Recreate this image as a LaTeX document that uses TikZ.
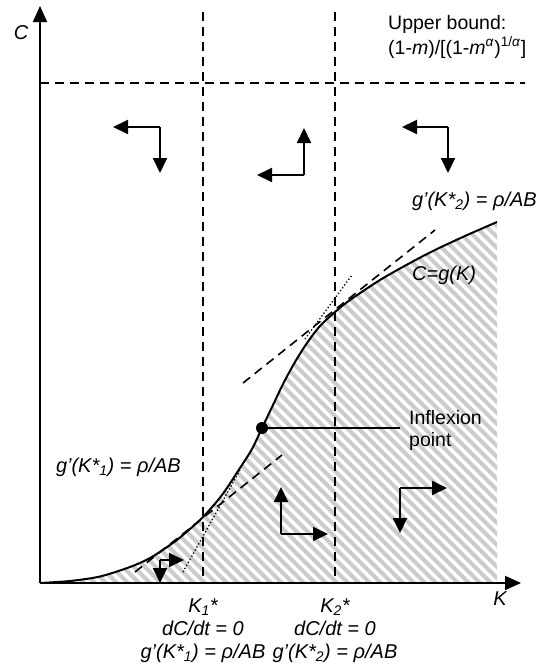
\documentclass[tikz,border=0pt]{standalone}
\usepackage{fontspec}
\setmainfont{Liberation Sans}
\usetikzlibrary{arrows.meta}
\begin{document}
\begin{tikzpicture}[x=1pt,y=-1pt,
  ax/.style={line width=2pt, -{Triangle[length=16pt,width=14pt]}},
  dir/.style={line width=2pt, -{Triangle[length=15pt,width=14pt]}},
  dsh/.style={line width=1.6pt, dash pattern=on 9pt off 6pt},
  dots/.style={line width=1.3pt, dash pattern=on 1.3pt off 2.2pt},
  lbl/.style={inner sep=0pt, font=\fontsize{19.5}{22}\selectfont},
  ilbl/.style={inner sep=0pt, font=\fontsize{20}{23}\selectfont\itshape},
  hatch/.style={line width=4pt, black!20}]
\useasboundingbox (0,0) rectangle (540,667);
% hatched region under the curve
\begin{scope}
\clip plot[smooth] coordinates {(40,583) (70,581) (100,576.5) (130,567) (150,558) (170,545) (183,535) (203,517) (222,495) (240,468) (252,449) (262,428) (273,405) (283,384) (295,362) (307,343) (320,326) (335,312) (350,300) (380,280) (410,263) (435,250) (465,236) (497,222)} -- (497,583) -- (40,583) -- cycle;
\foreach \i in {-620,-609,...,600} \draw[hatch] (\i,0) -- ++(700,700);
\end{scope}
% reference lines
\coordinate (o) at (40,583);
\coordinate (ytip) at (40,6);
\coordinate (xtip) at (521,583);
\coordinate (ubl) at (40,83);
\coordinate (ubr) at (525,83);
\coordinate (k1t) at (203,12);
\coordinate (k1b) at (203,583);
\coordinate (k2t) at (335,12);
\coordinate (k2b) at (335,583);
\draw[dsh] (ubl) -- (ubr);
\draw[dsh] (k1t) -- (k1b);
\draw[dsh] (k2t) -- (k2b);
% tangents
\coordinate (ta1) at (243,383); \coordinate (ta2) at (435,230);
\coordinate (tb1) at (305,339); \coordinate (tb2) at (352,275);
\coordinate (tc1) at (135,572); \coordinate (tc2) at (282,455);
\coordinate (td1) at (183,572); \coordinate (td2) at (240,470);
\draw[dsh] (ta1) -- (ta2);
\draw[dots] (tb1) -- (tb2);
\draw[dsh] (tc1) -- (tc2);
\draw[dots] (td1) -- (td2);
% curve
\draw[line width=2pt] plot[smooth] coordinates {(40,583) (70,581) (100,576.5) (130,567) (150,558) (170,545) (183,535) (203,517) (222,495) (240,468) (252,449) (262,428) (273,405) (283,384) (295,362) (307,343) (320,326) (335,312) (350,300) (380,280) (410,263) (435,250) (465,236) (497,222)};
% axes
\draw[ax] (o) -- (ytip);
\draw[ax] (o) -- (xtip);
% inflexion point
\node[circle, fill, inner sep=0pt, minimum size=12pt] (infl) at (262,428) {};
\coordinate (inflend) at (400,428);
\draw[line width=2pt] (infl.center) -- (inflend);
\node[lbl, anchor=base west] (inftxt1) at (409,424) {Inflexion};
\node[lbl, anchor=base west] (inftxt2) at (409,446) {point};
% direction arrows
\coordinate (c1) at (160,127); \coordinate (c1h) at (113,127); \coordinate (c1v) at (160,173);
\draw[dir] (c1) -- (c1h); \draw[dir] (c1) -- (c1v);
\coordinate (c2) at (304,175); \coordinate (c2h) at (257,175); \coordinate (c2v) at (304,128);
\draw[dir] (c2) -- (c2h); \draw[dir] (c2) -- (c2v);
\coordinate (c3) at (448,127); \coordinate (c3h) at (402,127); \coordinate (c3v) at (448,173);
\draw[dir] (c3) -- (c3h); \draw[dir] (c3) -- (c3v);
\coordinate (c4) at (281,534); \coordinate (c4h) at (328,534); \coordinate (c4v) at (281,487);
\draw[dir] (c4) -- (c4h); \draw[dir] (c4) -- (c4v);
\coordinate (c5) at (400,488); \coordinate (c5h) at (447,488); \coordinate (c5v) at (400,533);
\draw[dir] (c5) -- (c5h); \draw[dir] (c5) -- (c5v);
\coordinate (c6) at (160,560); \coordinate (c6h) at (184,560); \coordinate (c6v) at (160,583);
\draw[dir] (c6) -- (c6h); \draw[dir] (c6) -- (c6v);
% labels
\node[ilbl, anchor=base] (ylab) at (21,39) {C};
\node[ilbl, anchor=base] (xlab) at (500,605) {K};
\node[lbl, anchor=base west] (ub1) at (388,29) {Upper bound:};
\node[lbl, anchor=base west] (ub2) at (388,54) {(1-\textit{m})/[(1-\textit{m}\textsuperscript{\textit{α}})\textsuperscript{1/\textit{α}}]};
\node[ilbl, anchor=base east] (gk2top) at (537,206) {g'(K*\textsubscript{2}) = ρ/AB};
\node[ilbl, anchor=base west] (cg) at (412,280) {C=g(K)};
\node[ilbl, anchor=base east] (gk1left) at (181,472) {g'(K*\textsubscript{1}) = ρ/AB};
\node[ilbl, anchor=base] (k1a) at (203,612) {K\textsubscript{1}*};
\node[ilbl, anchor=base] (k1b2) at (203,635) {dC/dt = 0};
\node[ilbl, anchor=base] (k1c) at (203,658) {g'(K*\textsubscript{1}) = ρ/AB};
\node[ilbl, anchor=base] (k2a) at (335,612) {K\textsubscript{2}*};
\node[ilbl, anchor=base] (k2b2) at (335,635) {dC/dt = 0};
\node[ilbl, anchor=base] (k2c) at (335,658) {g'(K*\textsubscript{2}) = ρ/AB};
\end{tikzpicture}
\end{document}
